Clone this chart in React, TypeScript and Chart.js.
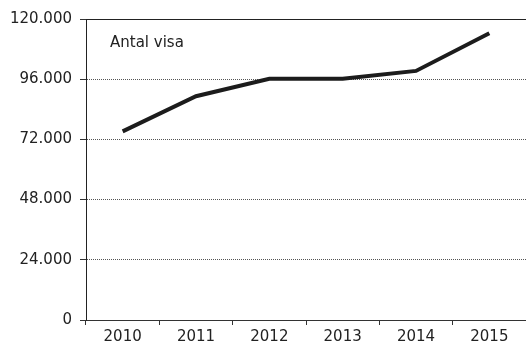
import React, { useEffect, useRef } from "react";
import { Chart, registerables } from "chart.js";

Chart.register(...registerables);

const years = ["2010", "2011", "2012", "2013", "2014", "2015"];
const antalVisa = [75200, 89200, 96200, 96200, 99300, 114300];
const yTicks = [0, 24000, 48000, 72000, 96000, 120000];
const annotationText = "Antal visa";

const FONT = "'DejaVu Sans', Verdana, sans-serif";

const fmt = (v: number) => (v === 0 ? "0" : (v / 1000).toFixed(0) + ".000");

export default function App() {
  const ref = useRef<HTMLCanvasElement | null>(null);
  useEffect(() => {
    if (!ref.current) return;
    const overlay = {
      id: "overlay",
      afterDraw(chart: any) {
        const { ctx, chartArea } = chart;
        ctx.save();
        ctx.strokeStyle = "#222";
        ctx.lineWidth = 1;
        ctx.beginPath();
        const y = Math.round(chartArea.top) + 0.5;
        ctx.moveTo(chartArea.left, y);
        ctx.lineTo(chartArea.right, y);
        ctx.stroke();
        ctx.fillStyle = "#222";
        ctx.font = "15px " + FONT;
        ctx.textBaseline = "middle";
        ctx.textAlign = "left";
        ctx.fillText(annotationText, chartArea.left + 24, chartArea.top + 24);
        ctx.restore();
      },
    };
    const chart = new Chart(ref.current, {
      type: "line",
      data: {
        labels: years,
        datasets: [
          {
            data: antalVisa,
            borderColor: "#1c1c1c",
            borderWidth: 4,
            pointRadius: 0,
            tension: 0,
            fill: false,
          },
        ],
      },
      options: {
        animation: false,
        responsive: false,
        devicePixelRatio: 1,
        layout: { padding: { top: 19, right: 0, bottom: 0, left: 0 } },
        plugins: { legend: { display: false }, tooltip: { enabled: false } },
        scales: {
          x: {
            offset: true,
            grid: {
              offset: true,
              drawOnChartArea: false,
              drawTicks: true,
              tickLength: 5,
              color: "#333",
            },
            border: { color: "#333", width: 1 },
            ticks: { color: "#222", font: { family: FONT, size: 15 }, padding: 3 },
          },
          y: {
            min: 0,
            max: 120000,
            afterFit: (s: any) => {
              s.width = 86;
            },
            afterBuildTicks: (s: any) => {
              s.ticks = yTicks.map((v) => ({ value: v }));
            },
            grid: {
              color: "#555",
              tickLength: 6,
              tickColor: "#333",
            },
            border: { color: "#222", width: 1, dash: [1, 1] },
            ticks: {
              color: "#222",
              font: { family: FONT, size: 15 },
              padding: 8,
              callback: (v: any) => fmt(Number(v)),
            },
          },
        },
      },
      plugins: [overlay],
    });
    return () => chart.destroy();
  }, []);
  return (
    <div style={{ position: "absolute", left: 0, top: 0, width: 526, height: 349, background: "#fff" }}>
      <canvas ref={ref} width={526} height={349} />
    </div>
  );
}
